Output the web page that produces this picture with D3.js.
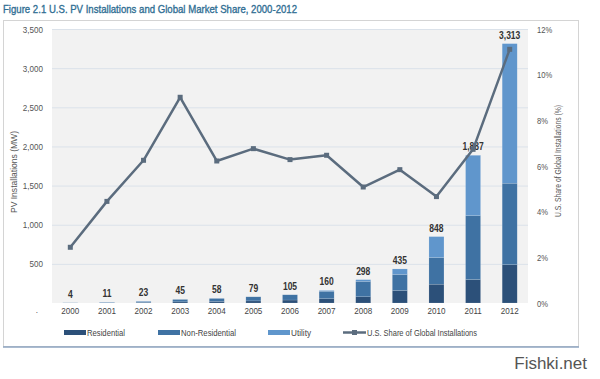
<!DOCTYPE html>
<html><head><meta charset="utf-8">
<script src="https://cdn.jsdelivr.net/npm/d3@7"></script>
<style>body{margin:0;background:#fff}svg{display:block}</style>
</head><body>
<script>
const years = ["2000","2001","2002","2003","2004","2005","2006","2007","2008","2009","2010","2011","2012"];
const residential   = [1, 3, 7, 15, 20, 27, 38, 55, 80, 160, 240, 300, 490];
const nonResidential= [2, 6, 12, 30, 38, 52, 67, 95, 196, 205, 340, 815, 1040];
const utility       = [1, 2, 4, 0, 0, 0, 0, 10, 22, 70, 268, 772, 1783];
const totals        = [4, 11, 23, 45, 58, 79, 105, 160, 298, 435, 848, 1887, 3313];
const sharePct      = [2.44, 4.45, 6.25, 9.01, 6.22, 6.76, 6.28, 6.47, 5.08, 5.84, 4.66, 6.73, 11.11];
const leftTicks  = [0, 500, 1000, 1500, 2000, 2500, 3000, 3500];
const rightTicks = [0, 2, 4, 6, 8, 10, 12];
const seriesNames = ["Residential", "Non-Residential", "Utility"];
const lineName = "U.S. Share of Global Installations";
const colors = {Residential:"#2c5079", "Non-Residential":"#3f72a3", Utility:"#6096cc"};
const lineColor = "#5b6c7e";

const W = 600, H = 379;
const svg = d3.select("body").append("svg").attr("width", W).attr("height", H);
const font = "'Liberation Sans', Arial, sans-serif";

// squeeze text horizontally to mimic a condensed face
function condense(sel, f) {
  sel.each(function() {
    const len = this.getComputedTextLength();
    if (len > 0) d3.select(this).attr("textLength", len * f).attr("lengthAdjust", "spacingAndGlyphs");
  });
}

// title
const title = svg.append("text").attr("x", 3).attr("y", 13).attr("fill", "#2f6e93")
  .attr("font-family", font).attr("font-size", 11.5).attr("stroke", "#2f6e93").attr("stroke-width", 0.35)
  .text("Figure 2.1  U.S. PV Installations and Global Market Share, 2000-2012");
title.attr("textLength", 294).attr("lengthAdjust", "spacingAndGlyphs");

// panel
svg.append("rect").attr("x", 3.5).attr("y", 20.5).attr("width", 575).attr("height", 326)
  .attr("fill", "#fff").attr("stroke", "#d4d4d4");
svg.append("line").attr("x1", 3).attr("x2", 579).attr("y1", 347).attr("y2", 347)
  .attr("stroke", "#8ea5c0").attr("stroke-width", 1.5);

const plot = {l: 52, r: 528, t: 29, b: 303};
svg.append("rect").attr("x", plot.l).attr("y", plot.t).attr("width", plot.r - plot.l)
  .attr("height", plot.b - plot.t).attr("fill", "#f2f2f2");

const x = d3.scaleBand().domain(years).range([plot.l, plot.r]).paddingInner(0.59).paddingOuter(0.295);
const y = d3.scaleLinear().domain([0, 3500]).range([plot.b, plot.t]);
const y2 = d3.scaleLinear().domain([0, 12]).range([plot.b, plot.t]);
const cx = d => x(d) + x.bandwidth() / 2;

// gridlines
svg.append("g").selectAll("line").data(leftTicks.slice(1)).join("line")
  .attr("x1", plot.l).attr("x2", plot.r).attr("y1", d => y(d) + 0.5).attr("y2", d => y(d) + 0.5)
  .attr("stroke", "#dbe2ea").attr("stroke-width", 1);

// left axis
const la = svg.append("g").attr("transform", `translate(${plot.l - 9},0)`)
  .call(d3.axisLeft(y).tickValues(leftTicks).tickSize(0).tickPadding(0)
    .tickFormat(d => d === 0 ? "." : d3.format(",")(d)));
la.select(".domain").remove();
la.selectAll("text").attr("font-family", font).attr("font-size", 9.5).attr("fill", "#555");
la.selectAll(".tick").filter(d => d === 0).select("text").attr("transform", "translate(-5,6)");
condense(la.selectAll("text"), 0.85);

// right axis
const ra = svg.append("g").attr("transform", `translate(${plot.r + 9},0)`)
  .call(d3.axisRight(y2).tickValues(rightTicks).tickSize(0).tickPadding(0).tickFormat(d => d + "%"));
ra.select(".domain").remove();
ra.selectAll("text").attr("font-family", font).attr("font-size", 9.5).attr("fill", "#555");
condense(ra.selectAll("text"), 0.8);

// axis titles
svg.append("text").attr("transform", "translate(17,172) rotate(-90)").attr("text-anchor", "middle")
  .attr("font-family", font).attr("font-size", 8.5).attr("fill", "#555")
  .attr("textLength", 82).attr("lengthAdjust", "spacingAndGlyphs").text("PV Installations (MW)");
svg.append("text").attr("transform", "translate(561,161) rotate(-90)").attr("text-anchor", "middle")
  .attr("font-family", font).attr("font-size", 9).attr("fill", "#555")
  .attr("textLength", 112).attr("lengthAdjust", "spacingAndGlyphs").text("U.S. Share of Global Installations (%)");

// x axis labels
const xa = svg.append("g").attr("transform", `translate(0,${plot.b + 2})`)
  .call(d3.axisBottom(x).tickSize(0).tickPadding(2));
xa.select(".domain").remove();
xa.selectAll("text").attr("font-family", font).attr("font-size", 9.5).attr("fill", "#444");
condense(xa.selectAll("text"), 0.85);

// stacked bars
const rows = years.map((yr, i) => ({year: yr, Residential: residential[i], "Non-Residential": nonResidential[i], Utility: utility[i]}));
const stack = d3.stack().keys(seriesNames)(rows);
svg.append("g").selectAll("g").data(stack).join("g").attr("fill", s => colors[s.key])
  .selectAll("rect").data(s => s).join("rect")
  .attr("x", d => x(d.data.year)).attr("width", x.bandwidth())
  .attr("y", d => y(d[1])).attr("height", d => Math.max(0, y(d[0]) - y(d[1])))
  .attr("stroke", "rgba(255,255,255,0.25)").attr("stroke-width", 0.5);

// value labels
const vl = svg.append("g").selectAll("text").data(years).join("text")
  .attr("x", d => cx(d)).attr("y", (d, i) => y(totals[i]) - 5).attr("text-anchor", "middle")
  .attr("font-family", font).attr("font-size", 10).attr("font-weight", "bold").attr("fill", "#333")
  .text((d, i) => d3.format(",")(totals[i]));
condense(vl, 0.85);

// line
const line = d3.line().x((d, i) => cx(years[i])).y(d => y2(d));
svg.append("path").datum(sharePct).attr("d", line).attr("fill", "none")
  .attr("stroke", lineColor).attr("stroke-width", 2.5).attr("stroke-linejoin", "round");
svg.append("g").selectAll("rect").data(sharePct).join("rect")
  .attr("x", (d, i) => cx(years[i]) - 2.5).attr("y", d => y2(d) - 2.5)
  .attr("width", 5).attr("height", 5).attr("fill", lineColor);

// legend
const lg = svg.append("g");
const legendItems = [
  {name: seriesNames[0], x: 64, w: 38}, {name: seriesNames[1], x: 158, w: 55}, {name: seriesNames[2], x: 268, w: 20}
];
legendItems.forEach(it => {
  lg.append("rect").attr("x", it.x).attr("y", 330).attr("width", 22).attr("height", 5).attr("fill", colors[it.name]);
  lg.append("text").attr("x", it.x + 23).attr("y", 335.5).attr("font-family", font).attr("font-size", 9)
    .attr("fill", "#444").attr("textLength", it.w).attr("lengthAdjust", "spacingAndGlyphs").text(it.name);
});
lg.append("line").attr("x1", 343).attr("x2", 366).attr("y1", 332.5).attr("y2", 332.5)
  .attr("stroke", lineColor).attr("stroke-width", 2.5);
lg.append("rect").attr("x", 352).attr("y", 330).attr("width", 5).attr("height", 5).attr("fill", lineColor);
lg.append("text").attr("x", 367).attr("y", 335.5).attr("font-family", font).attr("font-size", 9)
  .attr("fill", "#444").attr("textLength", 110).attr("lengthAdjust", "spacingAndGlyphs").text(lineName);

// watermark
svg.append("text").attr("x", 587).attr("y", 369).attr("text-anchor", "end")
  .attr("font-family", "'Liberation Sans', Arial, sans-serif").attr("font-size", 17).attr("fill", "#555")
  .text("Fishki.net");
</script>
</body></html>
